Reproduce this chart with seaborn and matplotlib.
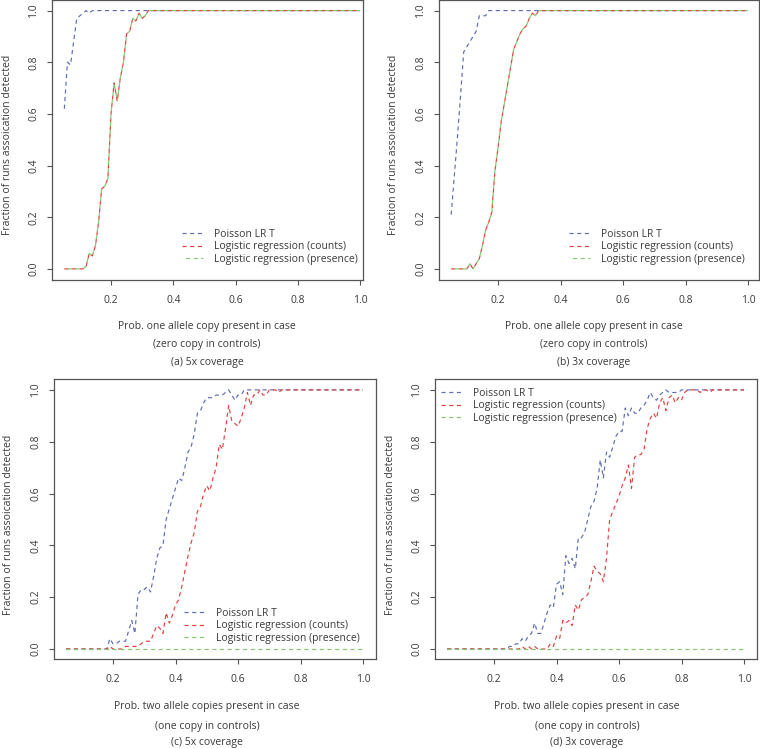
import matplotlib
matplotlib.use("Agg")
import matplotlib.pyplot as plt
import seaborn as sns
import pandas as pd

# ---------------- data ----------------
prob = [0.05, 0.06, 0.07, 0.08, 0.09, 0.10, 0.11, 0.12, 0.13, 0.14,
        0.15, 0.16, 0.17, 0.18, 0.19, 0.20, 0.21, 0.22, 0.23, 0.24,
        0.25, 0.26, 0.27, 0.28, 0.29, 0.30, 0.31, 0.32, 0.33, 0.34,
        0.35, 0.36, 0.37, 0.38, 0.39, 0.40, 0.41, 0.42, 0.43, 0.44,
        0.45, 0.46, 0.47, 0.48, 0.49, 0.50, 0.51, 0.52, 0.53, 0.54,
        0.55, 0.56, 0.57, 0.58, 0.59, 0.60, 0.61, 0.62, 0.63, 0.64,
        0.65, 0.66, 0.67, 0.68, 0.69, 0.70, 0.71, 0.72, 0.73, 0.74,
        0.75, 0.76, 0.77, 0.78, 0.79, 0.80, 0.81, 0.82, 0.83, 0.84,
        0.85, 0.86, 0.87, 0.88, 0.89, 0.90, 0.91, 0.92, 0.93, 0.94,
        0.95, 0.96, 0.97, 0.98, 0.99, 1.00]

# (a) 5x coverage, one copy vs zero copy
a_poisson = [0.62, 0.80, 0.79, 0.88, 0.97, 0.98, 0.99, 1.0, 0.99, 1.0,
             1.0, 1.0, 1.0, 1.0, 1.0, 1.0, 1.0, 1.0, 1.0, 1.0,
             1.0, 1.0, 1.0, 1.0, 1.0, 1.0, 1.0, 1.0, 1.0, 1.0,
             1.0, 1.0, 1.0, 1.0, 1.0, 1.0, 1.0, 1.0, 1.0, 1.0,
             1.0, 1.0, 1.0, 1.0, 1.0, 1.0, 1.0, 1.0, 1.0, 1.0,
             1.0, 1.0, 1.0, 1.0, 1.0, 1.0, 1.0, 1.0, 1.0, 1.0,
             1.0, 1.0, 1.0, 1.0, 1.0, 1.0, 1.0, 1.0, 1.0, 1.0,
             1.0, 1.0, 1.0, 1.0, 1.0, 1.0, 1.0, 1.0, 1.0, 1.0,
             1.0, 1.0, 1.0, 1.0, 1.0, 1.0, 1.0, 1.0, 1.0, 1.0,
             1.0, 1.0, 1.0, 1.0, 1.0, 1.0]
a_counts = [0.0, 0.0, 0.0, 0.0, 0.0, 0.0, 0.0, 0.01, 0.06, 0.05,
            0.09, 0.18, 0.31, 0.32, 0.35, 0.60, 0.72, 0.65, 0.74, 0.80,
            0.91, 0.92, 0.97, 0.96, 0.99, 0.97, 0.98, 1.0, 1.0, 1.0,
            1.0, 1.0, 1.0, 1.0, 1.0, 1.0, 1.0, 1.0, 1.0, 1.0,
            1.0, 1.0, 1.0, 1.0, 1.0, 1.0, 1.0, 1.0, 1.0, 1.0,
            1.0, 1.0, 1.0, 1.0, 1.0, 1.0, 1.0, 1.0, 1.0, 1.0,
            1.0, 1.0, 1.0, 1.0, 1.0, 1.0, 1.0, 1.0, 1.0, 1.0,
            1.0, 1.0, 1.0, 1.0, 1.0, 1.0, 1.0, 1.0, 1.0, 1.0,
            1.0, 1.0, 1.0, 1.0, 1.0, 1.0, 1.0, 1.0, 1.0, 1.0,
            1.0, 1.0, 1.0, 1.0, 1.0, 1.0]
a_presence = list(a_counts)

# (b) 3x coverage, one copy vs zero copy
b_poisson = [0.21, 0.36, 0.51, 0.67, 0.84, 0.86, 0.88, 0.90, 0.92, 0.98,
             0.98, 0.98, 1.0, 1.0, 1.0, 1.0, 1.0, 1.0, 1.0, 1.0,
             1.0, 1.0, 1.0, 1.0, 1.0, 1.0, 1.0, 1.0, 1.0, 1.0,
             1.0, 1.0, 1.0, 1.0, 1.0, 1.0, 1.0, 1.0, 1.0, 1.0,
             1.0, 1.0, 1.0, 1.0, 1.0, 1.0, 1.0, 1.0, 1.0, 1.0,
             1.0, 1.0, 1.0, 1.0, 1.0, 1.0, 1.0, 1.0, 1.0, 1.0,
             1.0, 1.0, 1.0, 1.0, 1.0, 1.0, 1.0, 1.0, 1.0, 1.0,
             1.0, 1.0, 1.0, 1.0, 1.0, 1.0, 1.0, 1.0, 1.0, 1.0,
             1.0, 1.0, 1.0, 1.0, 1.0, 1.0, 1.0, 1.0, 1.0, 1.0,
             1.0, 1.0, 1.0, 1.0, 1.0, 1.0]
b_counts = [0.0, 0.0, 0.0, 0.0, 0.0, 0.0, 0.02, 0.0, 0.02, 0.04,
            0.09, 0.15, 0.18, 0.22, 0.38, 0.47, 0.57, 0.64, 0.71, 0.78,
            0.85, 0.88, 0.91, 0.93, 0.94, 0.97, 0.99, 0.98, 1.0, 1.0,
            1.0, 1.0, 1.0, 1.0, 1.0, 1.0, 1.0, 1.0, 1.0, 1.0,
            1.0, 1.0, 1.0, 1.0, 1.0, 1.0, 1.0, 1.0, 1.0, 1.0,
            1.0, 1.0, 1.0, 1.0, 1.0, 1.0, 1.0, 1.0, 1.0, 1.0,
            1.0, 1.0, 1.0, 1.0, 1.0, 1.0, 1.0, 1.0, 1.0, 1.0,
            1.0, 1.0, 1.0, 1.0, 1.0, 1.0, 1.0, 1.0, 1.0, 1.0,
            1.0, 1.0, 1.0, 1.0, 1.0, 1.0, 1.0, 1.0, 1.0, 1.0,
            1.0, 1.0, 1.0, 1.0, 1.0, 1.0]
b_presence = list(b_counts)

# (c) 5x coverage, two copies vs one copy
c_poisson = [0.0, 0.0, 0.0, 0.0, 0.0, 0.0, 0.0, 0.0, 0.0, 0.0,
             0.0, 0.0, 0.0, 0.0, 0.04, 0.02, 0.02, 0.03, 0.03, 0.03,
             0.07, 0.11, 0.06, 0.21, 0.23, 0.23, 0.24, 0.22, 0.28, 0.35,
             0.39, 0.40, 0.50, 0.54, 0.58, 0.62, 0.66, 0.65, 0.70, 0.76,
             0.78, 0.83, 0.91, 0.92, 0.95, 0.97, 0.97, 0.97, 0.98, 0.98,
             0.98, 0.99, 1.0, 0.98, 0.96, 0.98, 0.98, 1.0, 1.0, 1.0,
             1.0, 1.0, 1.0, 1.0, 1.0, 1.0, 1.0, 1.0, 1.0, 1.0,
             1.0, 1.0, 1.0, 1.0, 1.0, 1.0, 1.0, 1.0, 1.0, 1.0,
             1.0, 1.0, 1.0, 1.0, 1.0, 1.0, 1.0, 1.0, 1.0, 1.0,
             1.0, 1.0, 1.0, 1.0, 1.0, 1.0]
c_counts = [0.0, 0.0, 0.0, 0.0, 0.0, 0.0, 0.0, 0.0, 0.0, 0.0,
            0.0, 0.0, 0.0, 0.0, 0.01, 0.0, 0.0, 0.0, 0.0, 0.01,
            0.01, 0.01, 0.01, 0.01, 0.02, 0.03, 0.03, 0.03, 0.06, 0.09,
            0.08, 0.06, 0.14, 0.10, 0.13, 0.17, 0.19, 0.24, 0.30, 0.36,
            0.41, 0.45, 0.53, 0.55, 0.60, 0.63, 0.61, 0.66, 0.70, 0.79,
            0.77, 0.85, 0.94, 0.88, 0.87, 0.86, 0.89, 0.93, 0.99, 0.94,
            0.98, 0.98, 1.0, 0.98, 0.98, 1.0, 1.0, 1.0, 0.99, 1.0,
            1.0, 1.0, 1.0, 1.0, 1.0, 1.0, 1.0, 1.0, 1.0, 1.0,
            1.0, 1.0, 1.0, 1.0, 1.0, 1.0, 1.0, 1.0, 1.0, 1.0,
            1.0, 1.0, 1.0, 1.0, 1.0, 1.0]
c_presence = [0.0, 0.0, 0.0, 0.0, 0.0, 0.0, 0.0, 0.0, 0.0, 0.0,
              0.0, 0.0, 0.0, 0.0, 0.0, 0.0, 0.0, 0.0, 0.0, 0.0,
              0.0, 0.0, 0.0, 0.0, 0.0, 0.0, 0.0, 0.0, 0.0, 0.0,
              0.0, 0.0, 0.0, 0.0, 0.0, 0.0, 0.0, 0.0, 0.0, 0.0,
              0.0, 0.0, 0.0, 0.0, 0.0, 0.0, 0.0, 0.0, 0.0, 0.0,
              0.0, 0.0, 0.0, 0.0, 0.0, 0.0, 0.0, 0.0, 0.0, 0.0,
              0.0, 0.0, 0.0, 0.0, 0.0, 0.0, 0.0, 0.0, 0.0, 0.0,
              0.0, 0.0, 0.0, 0.0, 0.0, 0.0, 0.0, 0.0, 0.0, 0.0,
              0.0, 0.0, 0.0, 0.0, 0.0, 0.0, 0.0, 0.0, 0.0, 0.0,
              0.0, 0.0, 0.0, 0.0, 0.0, 0.0]

# (d) 3x coverage, two copies vs one copy
d_poisson = [0.0, 0.0, 0.0, 0.0, 0.0, 0.0, 0.0, 0.0, 0.0, 0.0,
             0.0, 0.0, 0.0, 0.0, 0.0, 0.0, 0.0, 0.0, 0.0, 0.0,
             0.01, 0.01, 0.02, 0.02, 0.04, 0.03, 0.05, 0.06, 0.10, 0.06,
             0.06, 0.10, 0.14, 0.17, 0.16, 0.25, 0.26, 0.21, 0.36, 0.33,
             0.35, 0.31, 0.43, 0.43, 0.45, 0.50, 0.55, 0.57, 0.62, 0.73,
             0.66, 0.76, 0.74, 0.78, 0.82, 0.84, 0.84, 0.93, 0.90, 0.93,
             0.91, 0.91, 0.93, 0.94, 0.96, 0.99, 0.97, 0.96, 0.98, 0.99,
             1.0, 0.99, 0.99, 0.99, 0.99, 1.0, 1.0, 1.0, 1.0, 1.0,
             1.0, 1.0, 1.0, 1.0, 1.0, 1.0, 1.0, 1.0, 1.0, 1.0,
             1.0, 1.0, 1.0, 1.0, 1.0, 1.0]
d_counts = [0.0, 0.0, 0.0, 0.0, 0.0, 0.0, 0.0, 0.0, 0.0, 0.0,
            0.0, 0.0, 0.0, 0.0, 0.0, 0.0, 0.0, 0.0, 0.0, 0.0,
            0.0, 0.0, 0.0, 0.0, 0.01, 0.0, 0.01, 0.0, 0.01, 0.0,
            0.0, 0.0, 0.0, 0.02, 0.01, 0.05, 0.04, 0.11, 0.10, 0.11,
            0.09, 0.17, 0.15, 0.19, 0.20, 0.21, 0.26, 0.32, 0.30, 0.29,
            0.26, 0.35, 0.50, 0.53, 0.56, 0.59, 0.63, 0.66, 0.71, 0.62,
            0.74, 0.75, 0.75, 0.77, 0.85, 0.89, 0.91, 0.89, 0.95, 0.97,
            0.92, 0.97, 0.98, 0.95, 0.97, 0.96, 0.99, 1.0, 1.0, 1.0,
            1.0, 0.99, 1.0, 1.0, 0.99, 1.0, 1.0, 1.0, 1.0, 1.0,
            1.0, 1.0, 1.0, 1.0, 1.0, 1.0]
d_presence = list(c_presence)

series_names = ["Poisson LR T", "Logistic regression (counts)", "Logistic regression (presence)"]
ylabel_text = "Fraction of runs assoication detected"
xlabels_top = ["Prob. one allele copy present in case", "(zero copy in controls)"]
xlabels_bottom = ["Prob. two allele copies present in case", "(one copy in controls)"]
captions = ["(a) 5x coverage", "(b) 3x coverage", "(c) 5x coverage", "(d) 3x coverage"]
xtick_vals = [0.2, 0.4, 0.6, 0.8, 1.0]
ytick_vals = [0.0, 0.2, 0.4, 0.6, 0.8, 1.0]

# ---------------- style ----------------
sns.set_theme(style="white")
plt.rcParams["font.family"] = ["Open Sans", "DejaVu Sans"]

W, H = 760, 749
fig = plt.figure(figsize=(W / 100, H / 100), dpi=100)
fig.patch.set_facecolor("white")


def fx(px):
    return px / W


def fy(py):
    return 1 - py / H


C_BLUE = "#5f6db3"
C_RED = "#e2403e"
C_GREEN = "#84c86c"
TXT = "#3a3a3a"
SPINE = "#555555"
FS = 7.5
DASH = (3.5, 3)

panels = [
    dict(box=(52, 0, 363, 280), xlim=(0.0104, 1.0096), ylim=(-0.043, 1.041),
         data=(a_poisson, a_counts, a_presence), leg=(182, 229), cx=207, ylx=8,
         ys=(327, 345, 362), xl=xlabels_top, cap=captions[0], ylc=145, goff=3.5),
    dict(box=(439, 0, 759, 280), xlim=(0.011, 1.035), ylim=(-0.043, 1.041),
         data=(b_poisson, b_counts, b_presence), leg=(569, 229), cx=594, ylx=393,
         ys=(327, 345, 362), xl=xlabels_top, cap=captions[1], ylc=145, goff=3.5),
    dict(box=(54, 379, 376, 659), xlim=(0.0112, 1.0416), ylim=(-0.0386, 1.042),
         data=(c_poisson, c_counts, c_presence), leg=(184, 608), cx=207, ylx=9,
         ys=(706, 726, 742), xl=xlabels_bottom, cap=captions[2], ylc=525, goff=0),
    dict(box=(435, 379, 757, 659), xlim=(0.0112, 1.0416), ylim=(-0.0386, 1.042),
         data=(d_poisson, d_counts, d_presence), leg=(441, 388), cx=587, ylx=390,
         ys=(706, 726, 742), xl=xlabels_bottom, cap=captions[3], ylc=525, goff=0),
]

for p in panels:
    l, t, r, b = p["box"]
    ax = fig.add_axes([fx(l), fy(b), (r - l) / W, (b - t) / H])
    ax.set_facecolor("white")
    pois, cnt, pres = p["data"]
    df = pd.DataFrame({"prob": prob, "pois": pois, "cnt": cnt, "pres": pres})
    sns.lineplot(data=df, x="prob", y="pois", ax=ax, color=C_BLUE, lw=0.85,
                 linestyle=(0, DASH), estimator=None, legend=False)
    sns.lineplot(data=df, x="prob", y="cnt", ax=ax, color=C_RED, lw=0.85,
                 linestyle=(0, DASH), estimator=None, legend=False)
    sns.lineplot(data=df, x="prob", y="pres", ax=ax, color=C_GREEN, lw=0.85,
                 linestyle=(p["goff"], DASH), estimator=None, legend=False)
    lines = ax.get_lines()[:3]
    ax.set_xlim(*p["xlim"])
    ax.set_ylim(*p["ylim"])
    ax.set_xticks(xtick_vals)
    ax.set_xticklabels([f"{v:.1f}" for v in xtick_vals])
    ax.set_yticks(ytick_vals)
    ax.set_yticklabels([f"{v:.1f}" for v in ytick_vals], rotation=90, va="center")
    ax.set_xlabel("")
    ax.set_ylabel("")
    ax.tick_params(axis="both", direction="out", length=3.6, width=0.8, color=SPINE,
                   labelsize=FS, labelcolor=TXT, left=True, bottom=True)
    ax.tick_params(axis="x", pad=7.5)
    ax.tick_params(axis="y", pad=5.5)
    for s in ax.spines.values():
        s.set_visible(True)
        s.set_color(SPINE)
        s.set_linewidth(0.9)
    lx, ly = p["leg"]
    ax.legend(lines, series_names, loc="upper left", bbox_to_anchor=(fx(lx), fy(ly)),
              bbox_transform=fig.transFigure, frameon=False, fontsize=FS,
              borderpad=0, borderaxespad=0, handlelength=2.0, handletextpad=1.1,
              labelspacing=0.13, labelcolor=TXT)
    fig.text(fx(p["cx"]), fy(p["ys"][0]), p["xl"][0], ha="center", va="center",
             fontsize=FS, color=TXT)
    fig.text(fx(p["cx"]), fy(p["ys"][1]), p["xl"][1], ha="center", va="center",
             fontsize=FS, color=TXT)
    fig.text(fx(p["cx"]), fy(p["ys"][2]), p["cap"], ha="center", va="center",
             fontsize=FS, color=TXT)
    fig.text(fx(p["ylx"]), fy(p["ylc"]), ylabel_text, ha="center", va="center",
             rotation=90, fontsize=FS, color=TXT)

fig.savefig("out.png", dpi=100, facecolor="white")
